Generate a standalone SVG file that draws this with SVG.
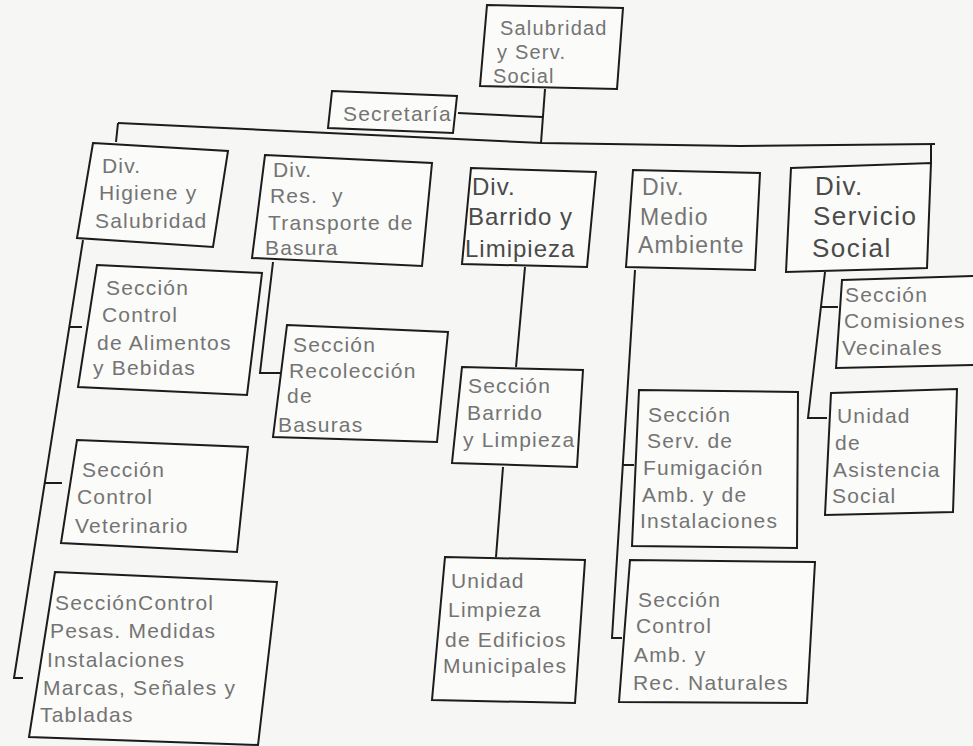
<svg xmlns="http://www.w3.org/2000/svg" width="973" height="746" viewBox="0 0 973 746">
<style>
.bg{fill:#f6f6f4}
.box{fill:#fbfbf9;stroke:#1c1c1c;stroke-width:2;stroke-linejoin:miter}
.ln{fill:none;stroke:#1c1c1c;stroke-width:2}
text{font-family:"Liberation Sans",Arial,sans-serif;font-size:21px;letter-spacing:1.2px;fill:#747474}
.dk{fill:#4a4a4a}
</style>
<rect class="bg" x="0" y="0" width="973" height="746"/>
<g id="connectors">
<polyline class="ln" points="545,89 541,143"/>
<polyline class="ln" points="458,113 542,117"/>
<polyline class="ln" points="118,123 542,143 740,146 935,144"/>
<polyline class="ln" points="118,123 116,142"/>
<polyline class="ln" points="931,144 931,163"/>
<polyline class="ln" points="83,240 14,678 23,678"/>
<polyline class="ln" points="69,327 82,327"/>
<polyline class="ln" points="45,483 62,483"/>
<polyline class="ln" points="273,262 260,373 280,373"/>
<polyline class="ln" points="525,267 516,367"/>
<polyline class="ln" points="503,467 496,557"/>
<polyline class="ln" points="635,270 612,638 622,638"/>
<polyline class="ln" points="623,465 634,465"/>
<polyline class="ln" points="825,272 808,418 827,418"/>
<polyline class="ln" points="821,307 838,307"/>
</g>
<g id="n-salubridad">
<polygon class="box" points="487,5 623,8 617,89 480,86"/>
<text x="500" y="35" style="font-size:20px">Salubridad</text>
<text x="497" y="59" style="font-size:20px">y Serv.</text>
<text x="493" y="83" style="font-size:20px">Social</text>
</g>
<g id="n-secretaria">
<polygon class="box" points="332,91 457,96 453,133 328,128"/>
<text x="343" y="121">Secretaría</text>
</g>
<g id="n-higiene">
<polygon class="box" points="93,143 228,151 213,247 77,238"/>
<text x="102" y="173">Div.</text>
<text x="99" y="200">Higiene y</text>
<text x="95" y="228">Salubridad</text>
</g>
<g id="n-residuos">
<polygon class="box" points="265,155 432,163 422,266 252,258"/>
<text x="273" y="177">Div.</text>
<text x="270" y="203" xml:space="preserve">Res.  y</text>
<text x="268" y="230">Transporte de</text>
<text x="265" y="255">Basura</text>
</g>
<g id="n-barrido">
<polygon class="box" points="471,168 596,172 587,267 462,264"/>
<text class="dk" x="472" y="195" style="font-size:24px;letter-spacing:1px">Div.</text>
<text class="dk" x="468" y="225" style="font-size:24px;letter-spacing:1px">Barrido y</text>
<text class="dk" x="465" y="257" style="font-size:24px;letter-spacing:1px">Limipieza</text>
</g>
<g id="n-medio">
<polygon class="box" points="633,170 760,173 755,270 626,267"/>
<text x="642" y="195" style="font-size:23px">Div.</text>
<text x="640" y="225" style="font-size:23px">Medio</text>
<text x="638" y="253" style="font-size:23px">Ambiente</text>
</g>
<g id="n-servicio">
<polygon class="box" points="791,168 931,163 927,268 786,272"/>
<text class="dk" x="815" y="195" style="font-size:26px;letter-spacing:1.5px">Div.</text>
<text class="dk" x="813" y="225" style="font-size:26px;letter-spacing:1.5px">Servicio</text>
<text class="dk" x="812" y="257" style="font-size:26px;letter-spacing:1.5px">Social</text>
</g>
<g id="n-alimentos">
<polygon class="box" points="97,265 262,273 247,395 78,387"/>
<text x="106" y="295">Sección</text>
<text x="102" y="322">Control</text>
<text x="97" y="350">de Alimentos</text>
<text x="93" y="375">y Bebidas</text>
</g>
<g id="n-recoleccion">
<polygon class="box" points="287,325 448,332 437,442 273,437"/>
<text x="293" y="352">Sección</text>
<text x="289" y="378">Recolección</text>
<text x="287" y="403">de</text>
<text x="278" y="432">Basuras</text>
</g>
<g id="n-veterinario">
<polygon class="box" points="77,440 248,447 237,552 61,543"/>
<text x="82" y="477">Sección</text>
<text x="77" y="504">Control</text>
<text x="75" y="533">Veterinario</text>
</g>
<g id="n-pesas">
<polygon class="box" points="55,572 277,582 258,745 29,737"/>
<text x="55" y="610">SecciónControl</text>
<text x="50" y="638">Pesas. Medidas</text>
<text x="47" y="667">Instalaciones</text>
<text x="43" y="695">Marcas, Señales y</text>
<text x="40" y="722">Tabladas</text>
</g>
<g id="n-secbarrido">
<polygon class="box" points="462,367 583,370 577,467 452,463"/>
<text x="468" y="393">Sección</text>
<text x="467" y="420">Barrido</text>
<text x="463" y="447">y Limpieza</text>
</g>
<g id="n-edificios">
<polygon class="box" points="445,557 585,560 575,703 432,700"/>
<text x="451" y="588">Unidad</text>
<text x="448" y="617">Limpieza</text>
<text x="445" y="647">de Edificios</text>
<text x="443" y="673">Municipales</text>
</g>
<g id="n-fumigacion">
<polygon class="box" points="639,390 798,392 797,548 632,546"/>
<text x="648" y="422">Sección</text>
<text x="647" y="448">Serv. de</text>
<text x="643" y="475">Fumigación</text>
<text x="642" y="502">Amb. y de</text>
<text x="640" y="528">Instalaciones</text>
</g>
<g id="n-controlamb">
<polygon class="box" points="630,560 815,562 807,703 619,702"/>
<text x="638" y="607">Sección</text>
<text x="636" y="633">Control</text>
<text x="634" y="662">Amb. y</text>
<text x="633" y="690">Rec. Naturales</text>
</g>
<g id="n-comisiones">
<polygon class="box" points="842,280 976,276 976,365 836,368"/>
<text x="845" y="302">Sección</text>
<text x="844" y="328">Comisiones</text>
<text x="842" y="355">Vecinales</text>
</g>
<g id="n-asistencia">
<polygon class="box" points="831,393 957,389 953,512 825,515"/>
<text x="837" y="423">Unidad</text>
<text x="835" y="450">de</text>
<text x="833" y="477">Asistencia</text>
<text x="832" y="503">Social</text>
</g>
</svg>
